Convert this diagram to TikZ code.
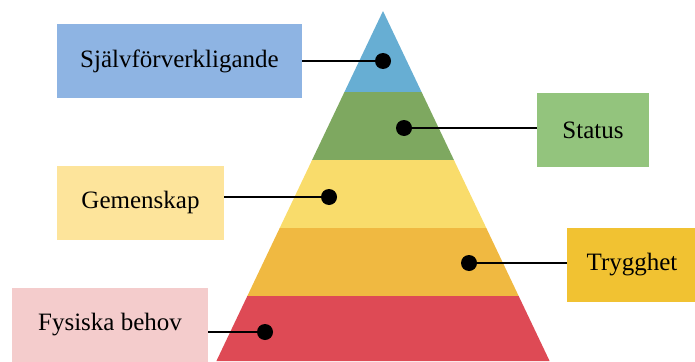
\documentclass[tikz,border=0pt]{standalone}
\usepackage{fontspec}
\setmainfont{Liberation Serif}
\definecolor{PyrBlue}{HTML}{67AED3}
\definecolor{PyrGreen}{HTML}{7EA860}
\definecolor{PyrYellow}{HTML}{F9DC6B}
\definecolor{PyrOrange}{HTML}{F0B941}
\definecolor{PyrRed}{HTML}{DE4A55}
\definecolor{BoxBlue}{HTML}{8EB4E3}
\definecolor{BoxGreen}{HTML}{93C47D}
\definecolor{BoxYellow}{HTML}{FDE49B}
\definecolor{BoxGold}{HTML}{F1C232}
\definecolor{BoxPink}{HTML}{F4CCCC}
\usetikzlibrary{positioning}

\begin{document}
\begin{tikzpicture}[x=1pt, y=-1pt, font=\fontsize{25}{30}\selectfont,
	label box/.style={minimum height=74pt, inner sep=0pt},
	dot/.style={circle, fill=black, minimum size=16pt, inner sep=0pt},
	link/.style={line width=2.6pt}]
	\useasboundingbox (0,0) rectangle (695,361);
	% pyramid layers, top to bottom
	\foreach \t/\b/\c in {11/92/PyrBlue, 92/160/PyrGreen, 160/228/PyrYellow, 228/296/PyrOrange, 296/361/PyrRed}
		\fill[\c] ({383-0.476*(\t-11)},\t) -- ({383+0.476*(\t-11)},\t) -- ({383+0.476*(\b-11)},\b) -- ({383-0.476*(\b-11)},\b) -- cycle;
	% labels
	\node[label box, fill=BoxBlue, minimum width=245pt] (self) at (179.5,61) {Självförverkligande};
	\node[label box, fill=BoxGreen, minimum width=112pt] (status) at (593,130) {Status};
	\node[label box, fill=BoxYellow, minimum width=167pt] (group) at (140.5,202.5) {Gemenskap};
	\node[label box, fill=BoxGold, minimum width=130pt] (safety) at (632,264.5) {Trygghet};
	\node[label box, fill=BoxPink, minimum width=196pt] (body) at (110,325) {Fysiska behov};
	% markers on the layers
	\node[dot] (selfdot) at (383,61) {};
	\node[dot] (statusdot) at (404,128) {};
	\node[dot] (groupdot) at (329,197) {};
	\node[dot] (safetydot) at (469,263) {};
	\node[dot] (bodydot) at (265,332) {};
	\draw[link] (self.east |- selfdot) -- (selfdot);
	\draw[link] (statusdot) -- (statusdot -| status.west);
	\draw[link] (group.east |- groupdot) -- (groupdot);
	\draw[link] (safetydot) -- (safetydot -| safety.west);
	\draw[link] (body.east |- bodydot) -- (bodydot);
\end{tikzpicture}
\end{document}
